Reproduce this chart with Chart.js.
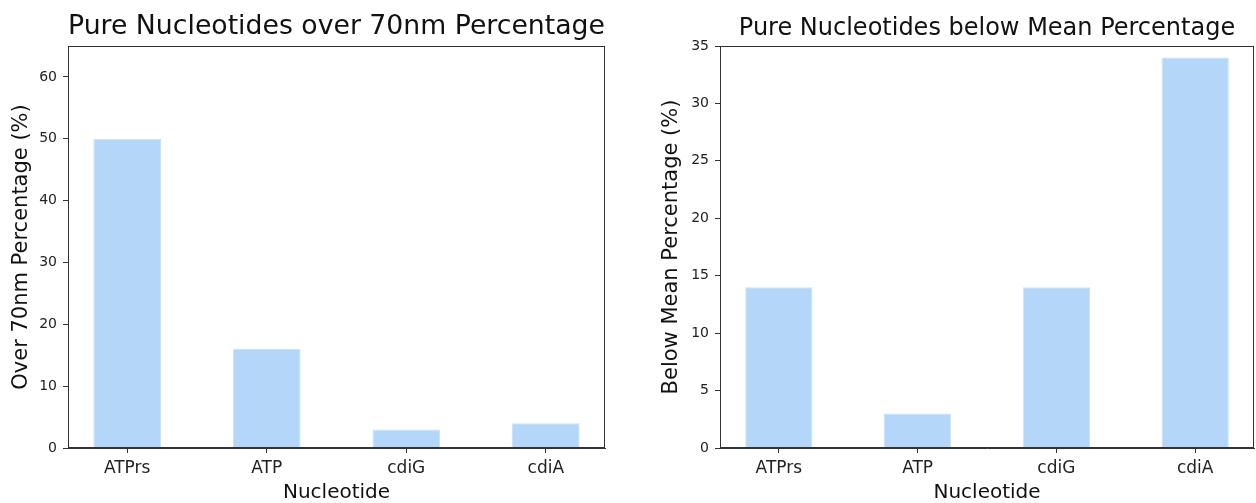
<!DOCTYPE html>
<html>
<head>
<meta charset="utf-8">
<script src="https://cdn.jsdelivr.net/npm/chart.js@4.4.1/dist/chart.umd.min.js"></script>
<style>
  html, body { margin: 0; padding: 0; background: #ffffff; }
  #wrap { position: relative; width: 1256px; height: 503px; background: #ffffff; overflow: hidden; }
  canvas { position: absolute; top: 0; }
  #c1 { left: 0px; }
  #c2 { left: 628px; }
</style>
</head>
<body>
<div id="wrap">
  <canvas id="c1" width="628" height="503"></canvas>
  <canvas id="c2" width="628" height="503"></canvas>
</div>
<script>
// ---- data ----
const nucleotides = ["ATPrs", "ATP", "cdiG", "cdiA"];
const over70nmPct = [50, 16, 3, 4];
const belowMeanPct = [14, 3, 14, 34];
const leftYTicks = [0, 10, 20, 30, 40, 50, 60];
const rightYTicks = [0, 5, 10, 15, 20, 25, 30, 35];
const leftYMax = 65;
const rightYMax = 35;
const leftTitle = "Pure Nucleotides over 70nm Percentage";
const rightTitle = "Pure Nucleotides below Mean Percentage";
const leftYLabel = "Over 70nm Percentage (%)";
const rightYLabel = "Below Mean Percentage (%)";
const xLabel = "Nucleotide";

const FONT = "'DejaVu Sans', 'Liberation Sans', sans-serif";
const BAR = "#b4d6f8";
const INK = "#222222";

const framePlugin = {
  id: 'frame',
  afterDatasetsDraw(chart) {
    const a = chart.chartArea, ctx = chart.ctx;
    ctx.save();
    ctx.strokeStyle = '#333333';
    ctx.lineWidth = 1;
    ctx.strokeRect(Math.round(a.left) + 0.5, Math.round(a.top) + 0.5,
                   Math.round(a.right - a.left) - 1, Math.round(a.bottom - a.top) - 1);
    ctx.restore();
  }
};

function makeChart(id, values, yTicks, yMax, title, titleSize, yLabel, yLabelPad, yWidth, padRight) {
  const pts = values.map((v, i) => ({ x: i, y: v }));
  return new Chart(document.getElementById(id), {
    type: 'bar',
    data: {
      datasets: [{
        data: pts,
        backgroundColor: BAR,
        borderColor: '#c9e2fa',
        borderWidth: 1,
        barPercentage: 0.485,
        categoryPercentage: 1.0
      }]
    },
    options: {
      responsive: false,
      animation: false,
      devicePixelRatio: 1,
      layout: { padding: { left: 0, right: padRight, top: 0, bottom: 0 } },
      plugins: {
        legend: { display: false },
        tooltip: { enabled: false },
        title: {
          display: true,
          fullSize: false,
          text: title,
          color: '#111111',
          font: { family: FONT, size: titleSize, weight: 'normal', lineHeight: 1.2 },
          padding: { top: 46 - titleSize * 1.2 - 3, bottom: 3 }
        }
      },
      scales: {
        x: {
          type: 'linear',
          min: -0.424,
          max: 3.424,
          offset: false,
          afterBuildTicks: (s) => { s.ticks = nucleotides.map((n, i) => ({ value: i })); },
          afterFit: (s) => { s.height = 55; },
          grid: { display: true, offset: false, drawOnChartArea: false, drawTicks: true, tickLength: 5, color: '#333333', lineWidth: 1 },
          border: { display: true, color: '#333333', width: 1 },
          ticks: {
            color: INK,
            font: { family: FONT, size: 17 },
            padding: 5,
            maxRotation: 0,
            autoSkip: false,
            callback: (v) => nucleotides[v] !== undefined ? nucleotides[v] : ''
          },
          title: {
            display: true,
            text: xLabel,
            color: '#111111',
            font: { family: FONT, size: 20, lineHeight: 1.2 },
            padding: { top: 0, bottom: -2 }
          }
        },
        y: {
          type: 'linear',
          min: 0,
          max: yMax,
          afterBuildTicks: (s) => { s.ticks = yTicks.map(v => ({ value: v })); },
          afterFit: (s) => { s.width = yWidth; },
          grid: { display: true, drawOnChartArea: false, drawTicks: true, tickLength: 5, color: '#333333', lineWidth: 1 },
          border: { display: true, color: '#333333', width: 1 },
          ticks: {
            color: INK,
            font: { family: FONT, size: 14 },
            padding: 6,
            autoSkip: false
          },
          title: {
            display: true,
            text: yLabel,
            color: '#111111',
            font: { family: FONT, size: 21, lineHeight: 1.2 },
            padding: { top: yLabelPad, bottom: 0 }
          }
        }
      }
    },
    plugins: [framePlugin]
  });
}

makeChart('c1', over70nmPct, leftYTicks, leftYMax, leftTitle, 27, leftYLabel, 9, 68, 23);
makeChart('c2', belowMeanPct, rightYTicks, rightYMax, rightTitle, 24, rightYLabel, 31, 92, 2);
</script>
</body>
</html>
